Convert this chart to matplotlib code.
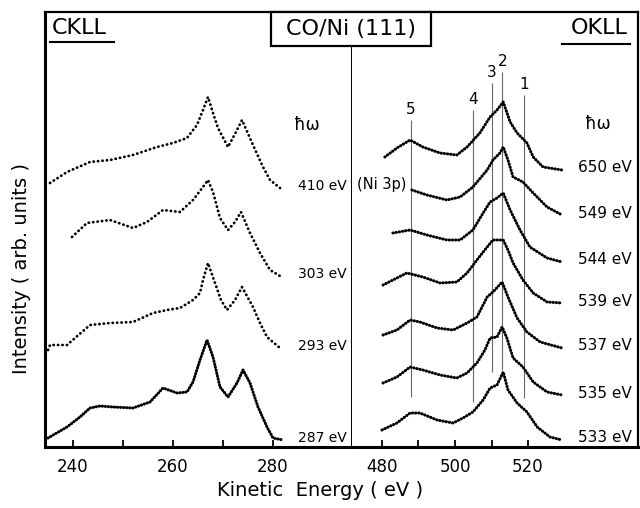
import matplotlib
matplotlib.use("Agg")
import matplotlib.pyplot as plt
from matplotlib.patches import Rectangle
from matplotlib.lines import Line2D

# ---------------- data (intensity in arbitrary units) ----------------
# C KLL spectra (kinetic energy in eV)
c410_e = [235.4, 238.8, 243.4, 247.4, 252.0, 256.8, 260.0, 262.8, 264.8, 266.0, 267.0, 268.0, 269.0, 271.0, 272.6, 273.8, 276.0, 278.0, 279.4, 281.4]
c410_i = [264, 275, 285, 287, 292, 300, 304, 309, 322, 337, 350, 334, 319, 300, 315, 327, 302, 280, 267, 259]

c303_e = [239.8, 242.8, 247.4, 252.0, 254.8, 258.0, 261.4, 264.0, 266.0, 267.0, 268.0, 269.4, 271.0, 272.4, 273.6, 275.4, 277.4, 279.4, 281.4]
c303_i = [210, 224, 227, 219, 225, 237, 235, 247, 260, 267, 255, 229, 217, 225, 235, 214, 194, 177, 171]

c293_e = [235.0, 235.4, 238.8, 243.4, 247.4, 252.0, 256.0, 258.8, 261.4, 264.0, 265.4, 266.0, 267.0, 268.4, 269.6, 270.8, 272.4, 273.8, 276.0, 277.4, 278.8, 281.4]
c293_i = [97, 102, 102, 122, 124, 125, 134, 137, 139, 147, 154, 167, 184, 164, 147, 137, 147, 160, 140, 124, 110, 99]

c287_e = [235.0, 238.8, 241.4, 243.4, 245.4, 248.0, 252.0, 255.4, 258.0, 260.8, 262.8, 264.0, 265.4, 266.8, 268.0, 269.4, 271.0, 272.8, 274.0, 275.4, 277.0, 278.8, 280.0, 282.0]
c287_i = [9, 20, 30, 39, 41, 40, 39, 45, 59, 54, 55, 65, 87, 107, 90, 60, 50, 64, 77, 64, 40, 20, 9, 7]

c_labels = ["410 eV", "303 eV", "293 eV", "287 eV"]

# O KLL spectra
o650_e = [480.8, 484.1, 487.7, 491.2, 495.9, 500.5, 503.3, 506.8, 509.6, 511.5, 513.2, 515.1, 517.0, 519.7, 521.4, 524.1, 529.3]
o650_i = [290, 299, 307, 300, 294, 292, 300, 314, 330, 337, 345, 325, 314, 304, 290, 280, 277]

o549_e = [488.2, 492.3, 497.8, 501.4, 504.9, 508.8, 510.4, 512.3, 513.2, 514.5, 515.9, 518.6, 521.4, 525.2, 529.3]
o549_i = [257, 252, 247, 250, 260, 277, 287, 294, 300, 287, 270, 265, 254, 240, 232]

o544_e = [483.0, 487.7, 492.3, 497.8, 501.4, 504.9, 507.7, 509.6, 511.5, 513.2, 515.1, 517.8, 520.5, 525.2, 529.3]
o544_i = [214, 217, 212, 207, 207, 217, 234, 245, 249, 254, 237, 217, 200, 189, 185]

o539_e = [480.3, 486.8, 491.2, 495.9, 500.5, 503.3, 506.0, 508.8, 510.4, 513.2, 514.5, 515.9, 518.6, 521.4, 525.2, 529.3]
o539_i = [162, 174, 170, 164, 165, 174, 187, 200, 207, 207, 197, 184, 167, 154, 145, 144]

o537_e = [480.3, 484.1, 487.7, 490.4, 495.1, 499.5, 503.3, 506.0, 508.8, 510.4, 512.9, 514.5, 517.0, 519.7, 523.3, 529.3]
o537_i = [112, 117, 127, 125, 119, 117, 124, 130, 150, 155, 165, 150, 129, 115, 105, 99]

o535_e = [480.3, 484.1, 487.7, 491.2, 495.9, 500.5, 503.3, 506.0, 508.2, 509.6, 511.5, 512.9, 514.2, 515.9, 518.6, 521.4, 525.2, 529.3]
o535_i = [64, 70, 80, 77, 72, 69, 74, 84, 97, 109, 110, 120, 109, 89, 80, 65, 55, 52]

o533_e = [480.0, 484.1, 487.7, 490.4, 495.1, 499.5, 502.2, 504.9, 507.7, 509.6, 511.5, 513.2, 514.5, 517.0, 519.7, 522.5, 526.0, 529.3]
o533_i = [17, 24, 34, 34, 27, 24, 29, 35, 47, 59, 62, 75, 57, 44, 35, 20, 10, 7]

o_labels = ["650 eV", "549 eV", "544 eV", "539 eV", "537 eV", "535 eV", "533 eV"]

# feature markers in O KLL
feat_names = ["1", "2", "3", "4", "5"]
feat_e = [519.0, 513.0, 510.1, 505.0, 488.0]
feat_top = [352, 375, 364, 337, 327]
feat_bot = [49, 77, 75, 45, 50]

c_ticks = [240, 260, 280]
c_minor = [250, 270]
o_ticks = [480, 500, 520]
o_minor = [490, 510]

# ---------------- figure ----------------
W, H = 640, 508
fig = plt.figure(figsize=(W / 100, H / 100), dpi=100)
plt.rcParams['font.family'] = ['DejaVu Sans']


def fx(px):
    return px / W


def fy(py):
    return 1 - py / H


top, bot = 12, 447
axL = fig.add_axes([fx(45), fy(bot), fx(352) - fx(45), fy(top) - fy(bot)])
axR = fig.add_axes([fx(352), fy(bot), fx(638) - fx(352), fy(top) - fy(bot)])

axL.set_xlim(234.4, 295.8)
axR.set_xlim(471.8, 550.1)
for ax in (axL, axR):
    ax.set_ylim(0, 435)
    ax.set_yticks([])
    ax.tick_params(axis='x', which='both', direction='in', length=5, width=1.3,
                   labelsize=12, pad=8, top=False)
    ax.spines['bottom'].set_linewidth(2.2)
    ax.spines['top'].set_linewidth(1.6)

axL.spines['left'].set_linewidth(2.2)
axL.spines['right'].set_linewidth(1.4)
axR.spines['left'].set_visible(False)
axR.spines['right'].set_linewidth(1.6)

axL.set_xticks(c_ticks)
axL.set_xticks(c_minor, minor=True)
axR.set_xticks(o_ticks)
axR.set_xticks(o_minor, minor=True)

# C KLL spectra
c_series = [(c410_e, c410_i, 'sparse'), (c303_e, c303_i, 'sparse'),
            (c293_e, c293_i, 'sparse'), (c287_e, c287_i, 'dense')]
for (e, i, kind), lab in zip(c_series, c_labels):
    if kind == 'sparse':
        axL.plot(e, i, color='k', lw=2.0, ls=(0, (0.1, 1.5)), dash_capstyle='round')
    else:
        axL.plot(e, i, color='k', lw=2.2, ls=(0, (0.1, 0.9)), dash_capstyle='round')
    axL.text(285.0, i[-1] + 2, lab, fontsize=10, ha='left', va='center')
axL.text(286.8, 322, "ħω", fontsize=12, ha='center', va='center')

# O KLL spectra
o_series = [(o650_e, o650_i), (o549_e, o549_i), (o544_e, o544_i), (o539_e, o539_i),
            (o537_e, o537_i), (o535_e, o535_i), (o533_e, o533_i)]
for (e, i), lab in zip(o_series, o_labels):
    axR.plot(e, i, color='k', lw=2.2, ls=(0, (0.1, 0.95)), dash_capstyle='round', zorder=3)
    axR.text(533.7, i[-1] + 2, lab, fontsize=11, ha='left', va='center')
axR.text(539.2, 323, "ħω", fontsize=12, ha='center', va='center')
axR.text(479.8, 263, "(Ni 3p)", fontsize=10.5, ha='center', va='center')

axR.vlines(feat_e, feat_bot, feat_top, color='0.4', lw=0.8, zorder=1)
for n, e, t in zip(feat_names, feat_e, feat_top):
    axR.text(e, t + 3, n, fontsize=11, ha='center', va='bottom')

# header texts and box
fig.text(fx(52), fy(28), "CKLL", fontsize=16, ha='left', va='center')
fig.add_artist(Line2D([fx(50), fx(114)], [fy(42), fy(42)], color='k', lw=1.5))
fig.text(fx(628), fy(28), "OKLL", fontsize=16, ha='right', va='center')
fig.add_artist(Line2D([fx(562), fx(630)], [fy(44), fy(44)], color='k', lw=1.5))
fig.add_artist(Rectangle((fx(271), fy(46)), fx(431) - fx(271), fy(top) - fy(46),
                         transform=fig.transFigure, facecolor='white',
                         edgecolor='k', lw=1.6, zorder=5))
fig.text(fx(351), fy(29), "CO/Ni (111)", fontsize=16, ha='center', va='center', zorder=6)

# axis labels
fig.text(fx(320), fy(490), "Kinetic  Energy ( eV )", fontsize=14, ha='center', va='center')
fig.text(fx(22), fy(268), "Intensity ( arb. units )", fontsize=14, ha='center',
         va='center', rotation=90)

fig.savefig("out.png", dpi=100)
